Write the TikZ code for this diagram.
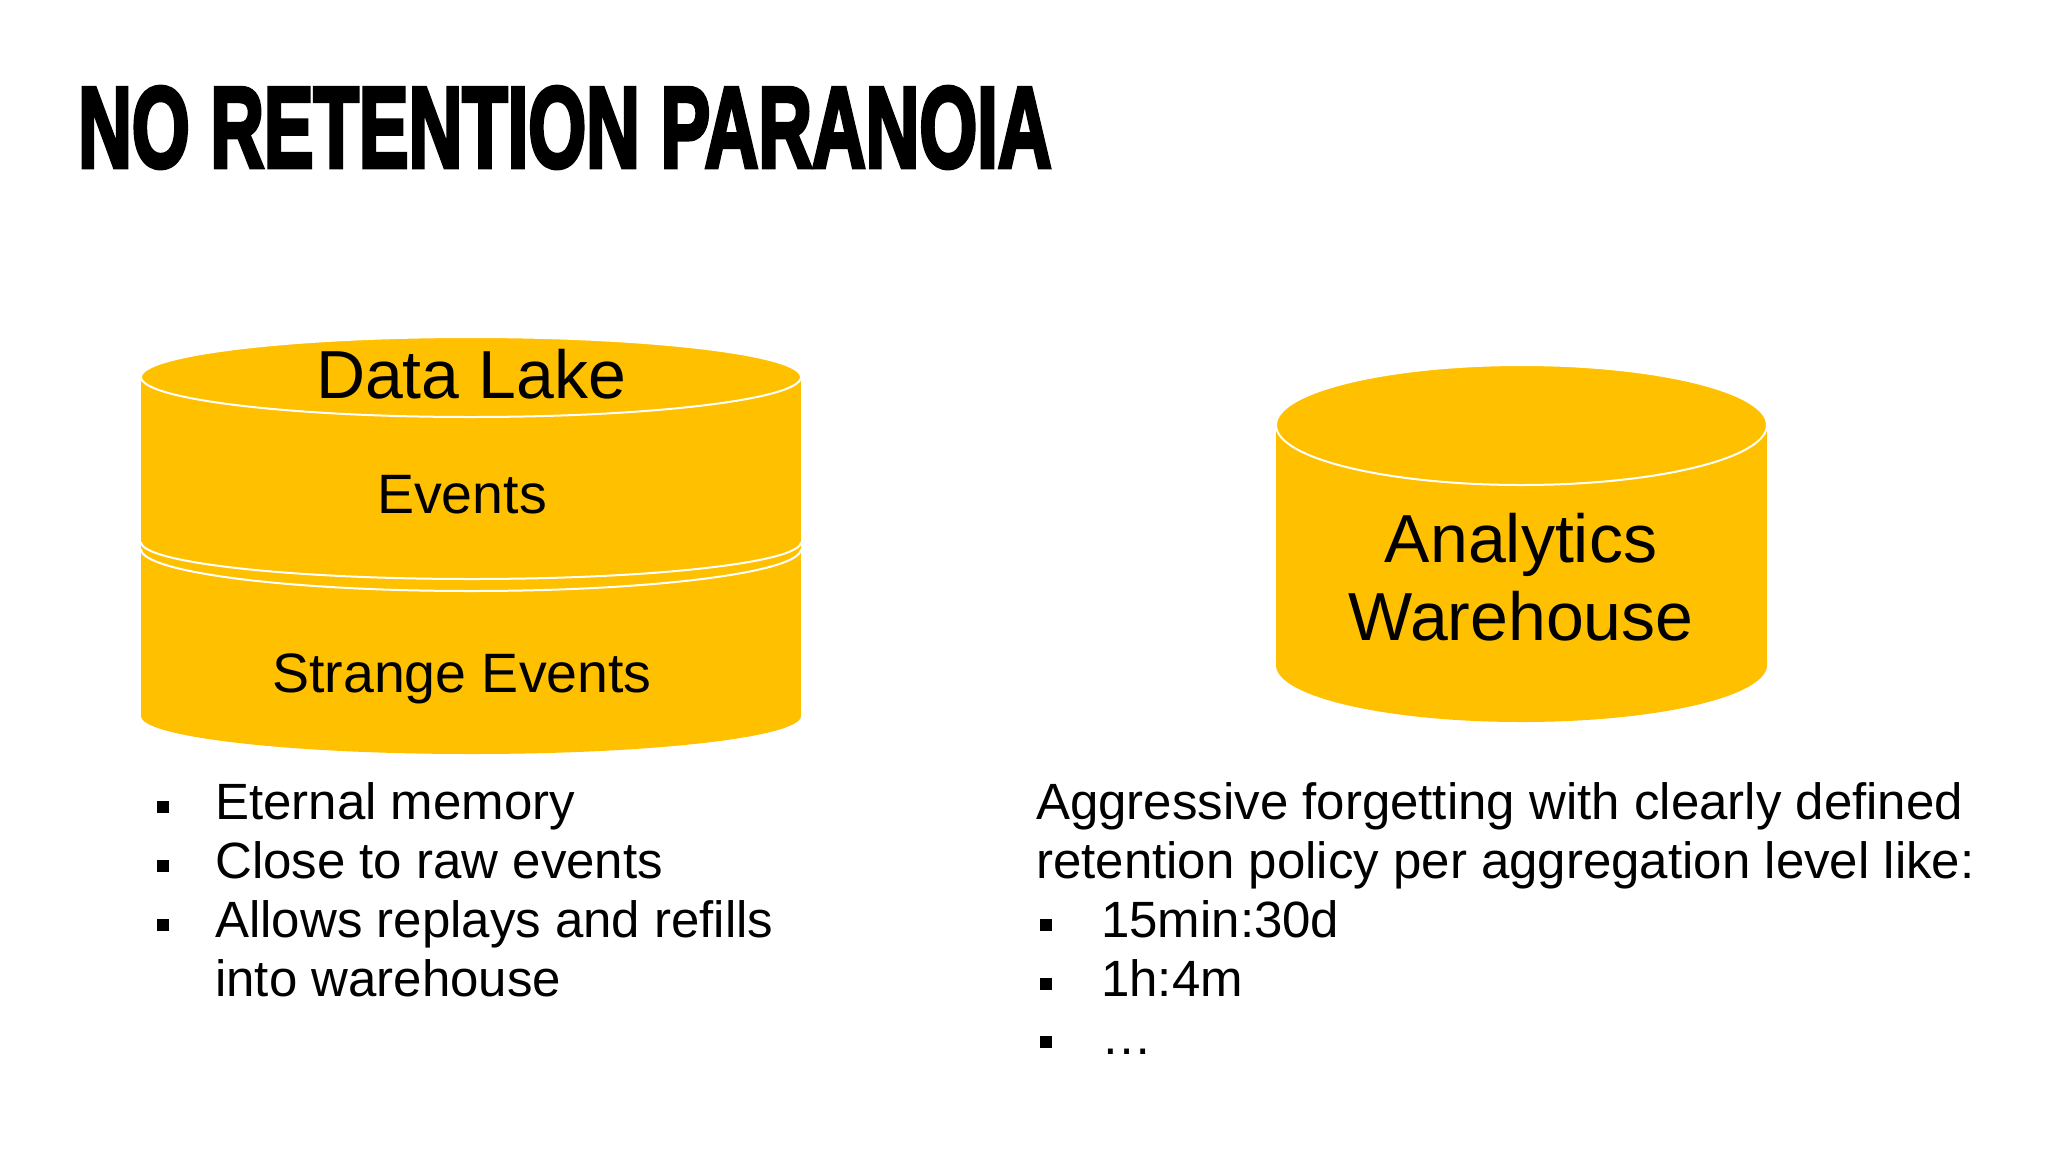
\documentclass[tikz,border=0pt]{standalone}
\usepackage{fontspec}
\setmainfont{Liberation Sans}
\newfontfamily\titlefont[BoldFeatures={FakeBold=4}]{Liberation Sans}
\definecolor{gold}{HTML}{FFC000}
\begin{document}
\begin{tikzpicture}[x=1pt,y=-1pt,
  body/.style={font=\fontsize{51}{59}\selectfont, anchor=base west, inner sep=0pt},
  cyltext/.style={anchor=base, inner sep=0pt},
  bul/.style={fill=black},
  rim/.style={draw=white, line width=2pt}]
\useasboundingbox (0,0) rectangle (2048,1152);
\fill[white] (0,0) rectangle (2048,1152);

% title
\node[anchor=base west, inner sep=0pt] (title) at (78,167)
  {\resizebox{973pt}{80pt}{\titlefont\bfseries NO RETENTION PARANOIA}};

% ---------- Data Lake cylinder ----------
\fill[gold] (141,377) rectangle (801,716);
\fill[gold] (471,716) ellipse[x radius=330, y radius=38];
\begin{scope}
  \clip (130,542) rectangle (812,640);
  \draw[rim] (471,542) ellipse[x radius=330, y radius=37];
\end{scope}
\begin{scope}
  \clip (130,549) rectangle (812,640);
  \draw[rim] (471,549) ellipse[x radius=330, y radius=42];
\end{scope}
\filldraw[fill=gold, rim] (471,377) ellipse[x radius=330, y radius=40];

\node[cyltext, font=\fontsize{68}{80}\selectfont] (dl) at (471,398) {Data Lake};
\node[cyltext, font=\fontsize{55.5}{66}\selectfont] (ev) at (462,513) {Events};
\node[cyltext, font=\fontsize{55.5}{66}\selectfont] (sev) at (462,692) {Strange Events};

% ---------- Analytics Warehouse cylinder ----------
\fill[gold] (1276,425) rectangle (1767,665);
\fill[gold] (1521.5,665) ellipse[x radius=245.5, y radius=57];
\filldraw[fill=gold, rim] (1521.5,425) ellipse[x radius=245.5, y radius=60];
\node[cyltext, font=\fontsize{68}{78}\selectfont] (an) at (1521,562) {Analytics};
\node[cyltext, font=\fontsize{68}{78}\selectfont] (wh) at (1521,640) {Warehouse};

% ---------- left list ----------
\node[body] (l1) at (215,819) {Eternal memory};
\node[body] (l2) at (215,878) {Close to raw events};
\node[body] (l3) at (215,937) {Allows replays and refills};
\node[body] (l4) at (215,996) {into warehouse};
\fill[bul] (157,801) rectangle (169,813);
\fill[bul] (157,860) rectangle (169,872);
\fill[bul] (157,919) rectangle (169,931);

% ---------- right list ----------
\node[body] (r1) at (1036,819) {Aggressive forgetting with clearly defined};
\node[body] (r2) at (1036,878) {retention policy per aggregation level like:};
\node[body] (r3) at (1101,937) {15min:30d};
\node[body] (r4) at (1101,996) {1h:4m};
\node[body] (r5) at (1101,1054) {…};
\fill[bul] (1040,919) rectangle (1052,931);
\fill[bul] (1040,978) rectangle (1052,990);
\fill[bul] (1040,1036) rectangle (1052,1048);
\end{tikzpicture}
\end{document}
